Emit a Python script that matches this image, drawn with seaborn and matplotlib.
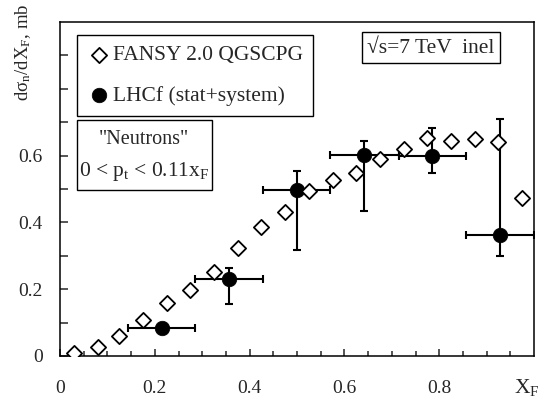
import numpy as np
import pandas as pd
import matplotlib
matplotlib.use('Agg')
import matplotlib.pyplot as plt
from matplotlib.patches import Rectangle
import seaborn as sns

# FANSY 2.0 QGSCPG prediction (open diamonds)
fansy_x = [0.03, 0.08, 0.125, 0.175, 0.225, 0.275, 0.325, 0.375, 0.425, 0.475,
           0.525, 0.575, 0.625, 0.675, 0.725, 0.775, 0.825, 0.875, 0.925, 0.975]
fansy_y = [0.008, 0.028, 0.060, 0.107, 0.159, 0.199, 0.252, 0.323, 0.387, 0.431,
           0.493, 0.527, 0.547, 0.589, 0.620, 0.653, 0.645, 0.650, 0.640, 0.473]

# LHCf data (filled circles) with bin edges and error limits
lhcf_x = [0.216, 0.357, 0.500, 0.641, 0.785, 0.928]
lhcf_y = [0.085, 0.230, 0.496, 0.602, 0.600, 0.363]
lhcf_xlo = [0.143, 0.285, 0.428, 0.570, 0.716, 0.857]
lhcf_xhi = [0.285, 0.428, 0.570, 0.716, 0.857, 1.0]
lhcf_ylo = [0.085, 0.156, 0.318, 0.433, 0.549, 0.299]
lhcf_yhi = [0.085, 0.263, 0.555, 0.645, 0.683, 0.709]

xtick_vals = [0, 0.2, 0.4, 0.6, 0.8]
xtick_labels = ['0', '0.2', '0.4', '0.6', '0.8']
ytick_vals = [0, 0.1, 0.2, 0.3, 0.4, 0.5, 0.6, 0.7, 0.8, 0.9]
ytick_labels = ['0', '', '0.2', '', '0.4', '', '0.6', '', '', '']

sns.set_style('ticks')
plt.rcParams['font.family'] = ['Liberation Serif', 'DejaVu Serif']
plt.rcParams['mathtext.fontset'] = 'custom'
plt.rcParams['mathtext.rm'] = 'Liberation Serif'
plt.rcParams['mathtext.it'] = 'Liberation Serif:italic'

fs_tick = 14
fs_text = 15.5

fansy = pd.DataFrame({'x': fansy_x, 'y': fansy_y})
lhcf = pd.DataFrame({'x': lhcf_x, 'y': lhcf_y})

fig = plt.figure(figsize=(5.42, 3.98), dpi=100)
ax = fig.add_axes([60 / 542, 42 / 398, 474 / 542, 334 / 398])

# error bars first
xerr = [np.array(lhcf_x) - np.array(lhcf_xlo), np.array(lhcf_xhi) - np.array(lhcf_x)]
yerr = [np.array(lhcf_y) - np.array(lhcf_ylo), np.array(lhcf_yhi) - np.array(lhcf_y)]
ax.errorbar(lhcf['x'], lhcf['y'], xerr=xerr, yerr=yerr, fmt='none',
            ecolor='black', elinewidth=1.5, capsize=2.6, capthick=1.5, zorder=2)

sns.scatterplot(data=lhcf, x='x', y='y', ax=ax, marker='o', s=110,
                color='black', edgecolor='black', linewidth=0.5,
                label='LHCf (stat+system)', zorder=3)
sns.scatterplot(data=fansy, x='x', y='y', ax=ax, marker='D', s=60,
                facecolor='white', edgecolor='black', linewidth=1.3,
                label='FANSY 2.0 QGSCPG', zorder=4)

ax.set_xlim(0, 1.0)
ax.set_ylim(0, 1.0)
ax.set_xticks(xtick_vals)
ax.set_xticklabels(xtick_labels)
ax.set_xticks(np.arange(0.05, 1.0, 0.05), minor=True)
ax.set_yticks(ytick_vals)
ax.set_yticklabels(ytick_labels)
ax.tick_params(axis='x', which='major', direction='in', length=5, width=1.1,
               labelsize=fs_tick, pad=17, top=False)
ax.tick_params(axis='x', which='minor', direction='in', length=3.5, width=1.1, top=False)
ax.tick_params(axis='y', direction='in', length=6, width=1.1, labelsize=fs_tick,
               pad=12.5, right=False)
for sp in ax.spines.values():
    sp.set_visible(True)
    sp.set_linewidth(1.1)
    sp.set_color('black')

ax.set_xlabel('X$_\\mathrm{F}$', fontsize=fs_text, va='center')
ax.xaxis.set_label_coords(0.985, -0.093)
ax.set_ylabel('dσ$_\\mathrm{n}$/dX$_\\mathrm{F}$, mb', fontsize=13.5, va='center')
ax.yaxis.set_label_coords(-0.078, 0.91)

# legend (diamond first)
handles, labels = ax.get_legend_handles_labels()
leg = ax.legend(handles[::-1], labels[::-1], loc='upper left',
                bbox_to_anchor=(0.036, 0.961), borderaxespad=0,
                fontsize=fs_text, frameon=True, fancybox=False, framealpha=1,
                edgecolor='black', borderpad=0.47, handlelength=1.1,
                handletextpad=0.1, labelspacing=0.95)
leg.get_frame().set_linewidth(1.0)

# "Neutrons" box
ax.add_patch(Rectangle((0.0359, 0.497), 0.2848, 0.21, transform=ax.transAxes,
                       fill=False, edgecolor='black', linewidth=1.0, zorder=5))
ax.text(0.178, 0.647, '"Neutrons"', transform=ax.transAxes, fontsize=14.5,
        ha='center', va='center')
ax.text(0.178, 0.551, '0 < p$_\\mathrm{t}$ < 0.11x$_\\mathrm{F}$',
        transform=ax.transAxes, fontsize=15.5, ha='center', va='center')

# energy box
ax.add_patch(Rectangle((0.637, 0.877), 0.291, 0.093, transform=ax.transAxes,
                       fill=False, edgecolor='black', linewidth=1.0, zorder=5))
ax.text(0.783, 0.922, '√s=7 TeV  inel', transform=ax.transAxes, fontsize=fs_text,
        ha='center', va='center')

fig.savefig('out.png', dpi=100)
